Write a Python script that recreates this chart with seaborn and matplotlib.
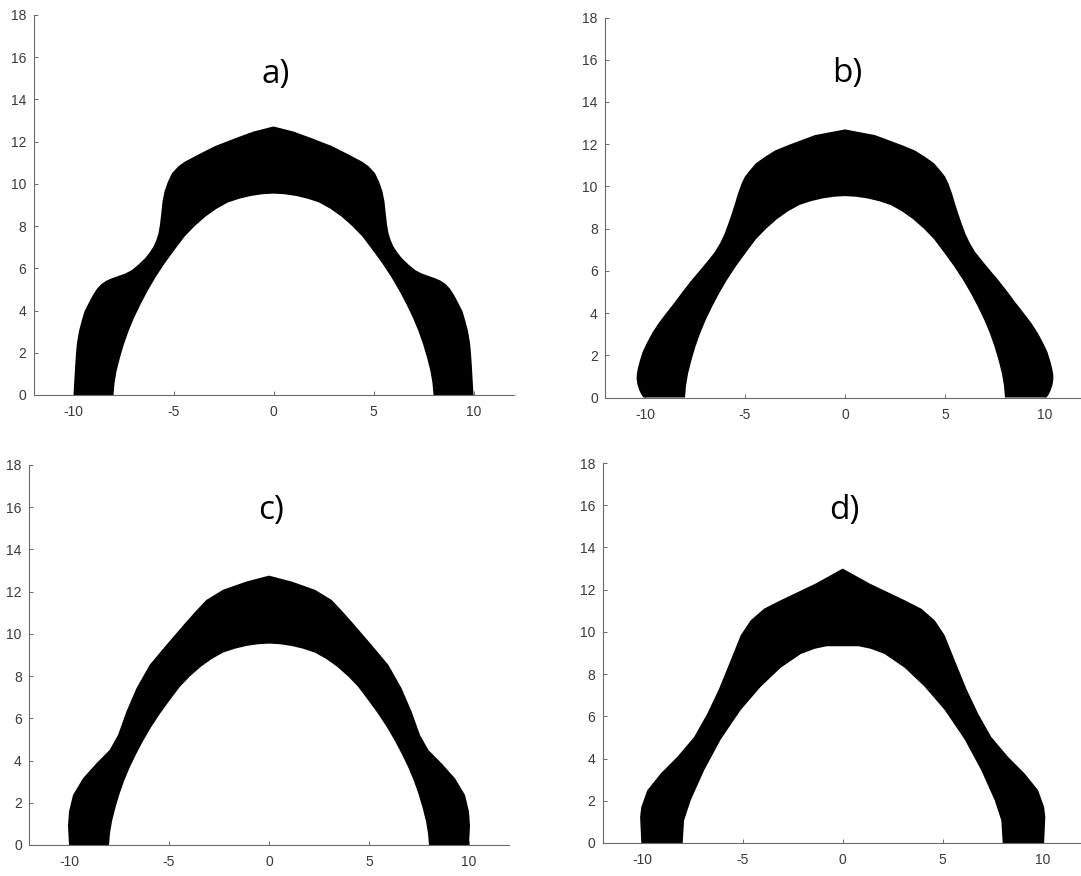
import numpy as np
import matplotlib
matplotlib.use("Agg")
import matplotlib.pyplot as plt
import seaborn as sns

# Right half of each arch cross-section, listed from the crown (x = 0) down to the base.
# Outer boundaries
a_outer_x = [0.00, 1.00, 1.92, 2.90, 3.70, 4.10, 4.42, 4.75, 5.08, 5.28, 5.45, 5.55, 5.62, 5.68, 5.75, 5.86,
             6.00, 6.20, 6.42, 6.75, 7.08, 7.40, 7.75, 8.05, 8.35, 8.60, 8.82, 9.02, 9.25, 9.45, 9.58, 9.72,
             9.83, 9.88, 9.92, 9.96, 10.00]
a_outer_y = [12.72, 12.48, 12.16, 11.80, 11.42, 11.22, 11.06, 10.84, 10.50, 10.10, 9.64, 9.16, 8.53, 8.05, 7.66,
             7.33, 7.03, 6.74, 6.48, 6.18, 5.92, 5.76, 5.64, 5.54, 5.42, 5.26, 5.04, 4.75, 4.34, 3.96, 3.55, 3.05,
             2.45, 1.90, 1.34, 0.67, 0.00]

b_outer_x = [0.00, 1.50, 2.83, 3.50, 4.00, 4.45, 4.75, 5.00, 5.17, 5.35, 5.50, 5.66, 5.83, 6.02, 6.25, 6.52,
             6.83, 7.25, 7.67, 8.10, 8.50, 8.93, 9.33, 9.65, 9.92, 10.12, 10.25, 10.36, 10.41, 10.42, 10.38,
             10.30, 10.20, 10.08]
b_outer_y = [12.70, 12.43, 11.96, 11.70, 11.40, 11.10, 10.77, 10.47, 10.14, 9.67, 9.19, 8.72, 8.25, 7.76, 7.30, 6.88,
             6.51, 6.03, 5.56, 5.04, 4.53, 4.01, 3.51, 3.04, 2.56, 2.16, 1.77, 1.37, 1.10, 0.88, 0.62,
             0.38, 0.17, 0.00]

c_outer_x = [0.00, 1.13, 2.30, 3.13, 3.60, 4.13, 5.13, 5.97, 6.63, 7.13, 7.55, 7.97, 8.63, 9.30, 9.80, 10.00,
             10.05, 10.00]
c_outer_y = [12.76, 12.48, 12.09, 11.61, 11.14, 10.58, 9.48, 8.53, 7.42, 6.32, 5.21, 4.50, 3.87, 3.16, 2.37, 1.58,
             0.90, 0.00]

d_outer_x = [0.00, 1.35, 3.10, 3.93, 4.60, 5.10, 5.60, 6.18, 6.77, 7.43, 8.27, 9.10, 9.77, 10.07, 10.13, 10.07]
d_outer_y = [13.00, 12.29, 11.50, 11.10, 10.55, 9.84, 8.66, 7.31, 6.13, 5.02, 4.08, 3.29, 2.50, 1.71, 1.23, 0.00]

# Inner boundaries (opening of the arch)
abc_inner_x = [0.00, 0.55, 1.12, 1.70, 2.28, 2.85, 3.40, 3.95, 4.45, 4.95, 5.45, 5.90, 6.30, 6.65, 6.97,
               7.25, 7.48, 7.68, 7.85, 7.95, 8.00]
abc_inner_y = [9.54, 9.51, 9.43, 9.30, 9.12, 8.82, 8.45, 7.99, 7.50, 6.87, 6.22, 5.57, 4.92, 4.29, 3.66,
               3.02, 2.40, 1.76, 1.12, 0.55, 0.00]

d_inner_x = [0.00, 0.80, 1.40, 2.10, 3.10, 4.10, 5.10, 6.10, 6.93, 7.60, 7.93, 8.00]
d_inner_y = [9.32, 9.32, 9.20, 8.95, 8.30, 7.40, 6.30, 4.90, 3.44, 2.02, 1.07, 0.00]

panel_labels = ["a)", "b)", "c)", "d)"]
label_heights = [14.8, 14.95, 15.45, 15.35]

x_ticks = [-10, -5, 0, 5, 10]
y_ticks = [0, 2, 4, 6, 8, 10, 12, 14, 16, 18]

panels = [
    (a_outer_x, a_outer_y, abc_inner_x, abc_inner_y),
    (b_outer_x, b_outer_y, abc_inner_x, abc_inner_y),
    (c_outer_x, c_outer_y, abc_inner_x, abc_inner_y),
    (d_outer_x, d_outer_y, d_inner_x, d_inner_y),
]

sns.set_theme(style="ticks")
plt.rcParams["font.family"] = ["Liberation Sans", "DejaVu Sans"]
plt.rcParams.update({
    "axes.unicode_minus": False,
    "xtick.direction": "in",
    "ytick.direction": "in",
    "xtick.major.size": 3.0,
    "ytick.major.size": 3.0,
    "xtick.major.width": 0.7,
    "ytick.major.width": 0.7,
    "xtick.color": "#6a6a6a",
    "ytick.color": "#6a6a6a",
    "xtick.labelcolor": "#3a3a3a",
    "ytick.labelcolor": "#3a3a3a",
    "xtick.labelsize": 10,
    "ytick.labelsize": 10,
    "xtick.major.pad": 7.5,
    "ytick.major.pad": 5.2,
    "axes.edgecolor": "#6a6a6a",
    "axes.linewidth": 0.8,
})

W, H = 1081, 876
fig = plt.figure(figsize=(W / 100, H / 100), dpi=100)
fig.patch.set_facecolor("white")

# axes frames in pixels: left edge, y = 0 baseline (from top)
frames = [
    (33.5, 395.0),
    (605.0, 397.5),
    (29.0, 845.0),
    (602.7, 843.0),
]
ax_w, ax_h = 480.0, 380.0


def arch_polygon(ox, oy, ix, iy):
    ox, oy, ix, iy = map(np.asarray, (ox, oy, ix, iy))
    px = np.concatenate([ox, ix[::-1], -ix[1:], (-ox[::-1])[:-1]])
    py = np.concatenate([oy, iy[::-1], iy[1:], (oy[::-1])[:-1]])
    return px, py


for (left, base), (ox, oy, ix, iy), label, ly in zip(frames, panels, panel_labels, label_heights):
    ax = fig.add_axes([left / W, (H - base) / H, ax_w / W, ax_h / H])
    px, py = arch_polygon(ox, oy, ix, iy)
    ax.fill(px, py, color="black", lw=0, antialiased=True, zorder=1)
    ax.set_xlim(-12, 12)
    ax.set_ylim(0, 18)
    ax.set_xticks(x_ticks)
    ax.set_yticks(y_ticks)
    ax.set_facecolor("white")
    sns.despine(ax=ax, top=True, right=True)
    ax.text(0.1, ly, label, ha="center", va="baseline", fontsize=24,
            family=["Open Sans", "DejaVu Sans"], color="black")

fig.savefig("out.png", dpi=100, facecolor="white")
